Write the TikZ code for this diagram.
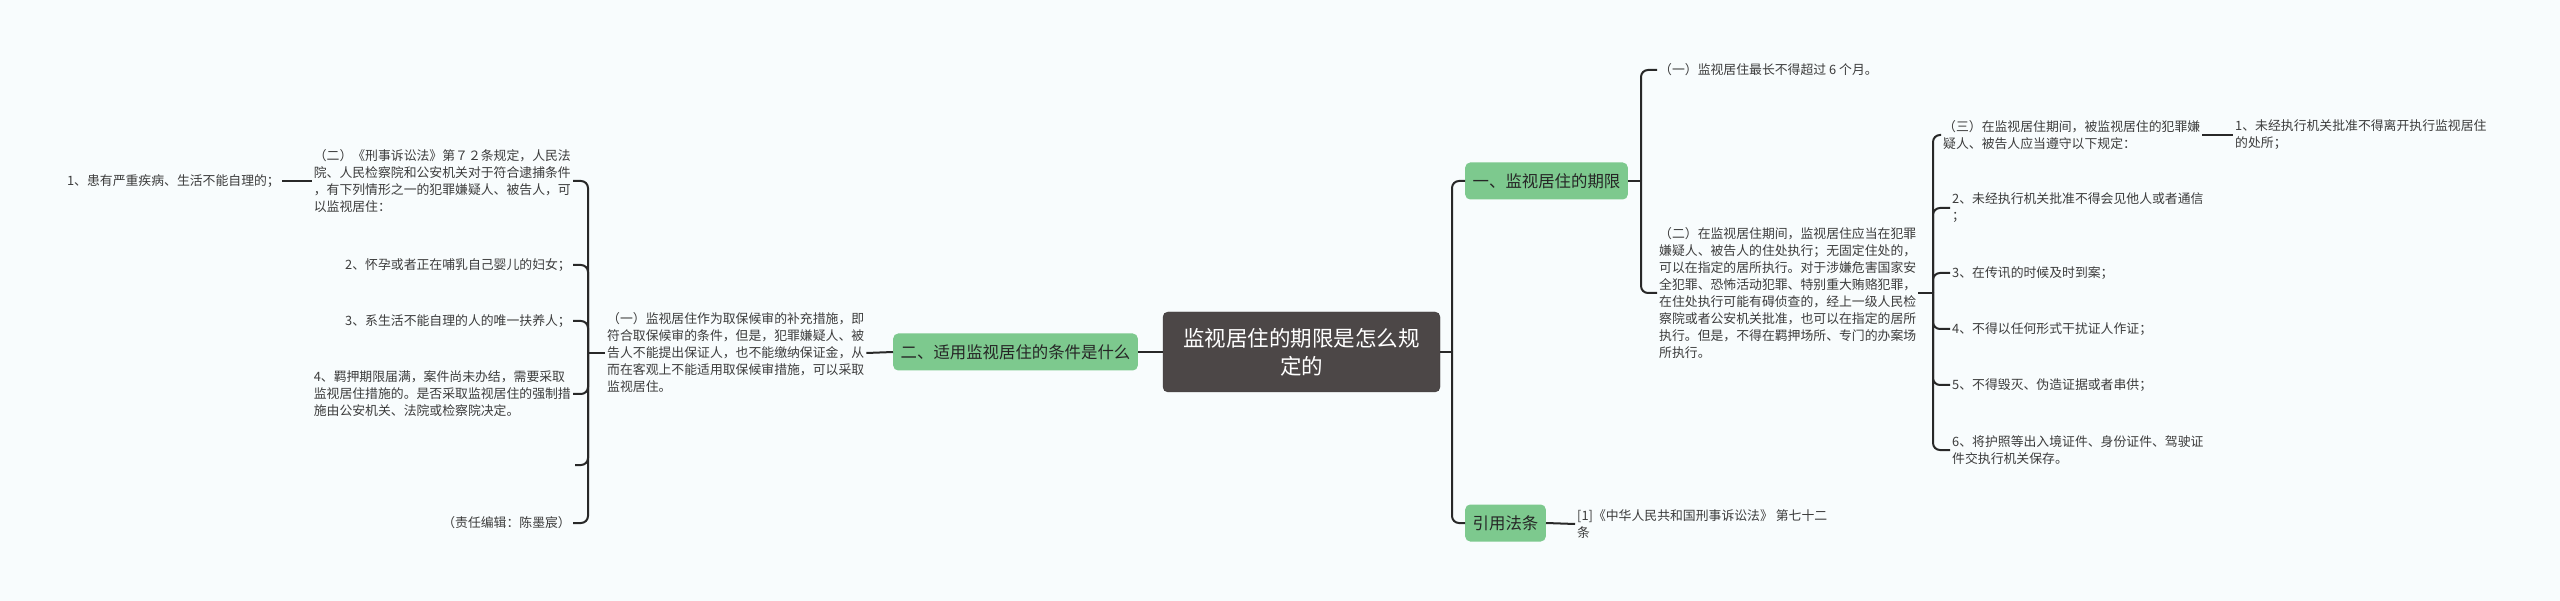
\documentclass[tikz,border=0pt]{standalone}
\usepackage{fontspec}
\setmainfont{Noto Sans CJK SC}
\definecolor{bg}{RGB}{248,252,253}
\definecolor{grn}{RGB}{125,201,142}
\definecolor{darkbox}{RGB}{76,71,71}
\definecolor{txt}{RGB}{60,60,60}
\definecolor{ln}{RGB}{40,40,40}
\begin{document}
\begin{tikzpicture}[x=1pt,y=-1pt,
  conn/.style={draw=ln, line width=2pt, rounded corners=7pt},
  leaf/.style={inner sep=2pt, align=left, text=txt, font=\fontsize{12.85}{17}\selectfont},
  topic/.style={fill=grn, rounded corners=5pt, inner xsep=7.5pt, inner ysep=0pt, minimum height=37pt, text=black!85, font=\fontsize{16.4}{20}\selectfont},
  root/.style={fill=darkbox, draw=darkbox!80!black, rounded corners=5pt, minimum width=277pt, minimum height=80pt, text=white, align=center, font=\fontsize{21.5}{28}\selectfont}]
\fill[bg] (0,0) rectangle (2560,601);
\useasboundingbox (0,0) rectangle (2560,601);

% root
\node[root] (c) at (1301.5,352) {监视居住的期限是怎么规\\定的};

% right side
\node[topic, anchor=west] (n1) at (1465,181) {一、监视居住的期限};
\node[topic, anchor=west] (n2) at (1465,523) {引用法条};
\node[leaf, anchor=west] (a1) at (1657,70) {（一）监视居住最长不得超过 6 个月。};
\node[leaf, anchor=west] (a2) at (1657,293) {（二）在监视居住期间，监视居住应当在犯罪\\嫌疑人、被告人的住处执行；无固定住处的，\\可以在指定的居所执行。对于涉嫌危害国家安\\全犯罪、恐怖活动犯罪、特别重大贿赂犯罪，\\在住处执行可能有碍侦查的，经上一级人民检\\察院或者公安机关批准，也可以在指定的居所\\执行。但是，不得在羁押场所、专门的办案场\\所执行。};
\node[leaf, anchor=west] (b3) at (1941,135) {（三）在监视居住期间，被监视居住的犯罪嫌\\疑人、被告人应当遵守以下规定：};
\node[leaf, anchor=west] (b1) at (2233,135) {1、未经执行机关批准不得离开执行监视居住\\的处所；};
\node[leaf, anchor=west] (b2) at (1950,208) {2、未经执行机关批准不得会见他人或者通信\\；};
\node[leaf, anchor=west] (b33) at (1950,273) {3、在传讯的时候及时到案；};
\node[leaf, anchor=west] (b4) at (1950,329) {4、不得以任何形式干扰证人作证；};
\node[leaf, anchor=west] (b5) at (1950,385) {5、不得毁灭、伪造证据或者串供；};
\node[leaf, anchor=west] (b6) at (1950,450) {6、将护照等出入境证件、身份证件、驾驶证\\件交执行机关保存。};
\node[leaf, anchor=west] (r1) at (1575,524) {[1]《中华人民共和国刑事诉讼法》 第七十二\\条};

% left side
\node[topic, anchor=east] (g2) at (1138,352) {二、适用监视居住的条件是什么};
\node[leaf, anchor=west] (l1) at (605,353) {（一）监视居住作为取保候审的补充措施，即\\符合取保候审的条件，但是，犯罪嫌疑人、被\\告人不能提出保证人，也不能缴纳保证金，从\\而在客观上不能适用取保候审措施，可以采取\\监视居住。};
\node[leaf, anchor=east] (lb2) at (573,181) {（二）《刑事诉讼法》第７２条规定，人民法\\院、人民检察院和公安机关对于符合逮捕条件\\，有下列情形之一的犯罪嫌疑人、被告人，可\\以监视居住：};
\node[leaf, anchor=east] (l2) at (573,265) {2、怀孕或者正在哺乳自己婴儿的妇女；};
\node[leaf, anchor=east] (l3) at (573,321) {3、系生活不能自理的人的唯一扶养人；};
\node[leaf, anchor=east] (l4) at (573,394) {4、羁押期限届满，案件尚未办结，需要采取\\监视居住措施的。是否采取监视居住的强制措\\施由公安机关、法院或检察院决定。};
\coordinate (l5) at (575,465);
\node[leaf, anchor=east] (ed) at (573,523) {（责任编辑：陈墨宸）};
\node[leaf, anchor=east] (p1) at (282,181) {1、患有严重疾病、生活不能自理的；};

% connectors right
\draw[conn] (c.east) -- (1452,352) coordinate (jR);
\draw[conn] (jR) |- (n1.west);
\draw[conn] (jR) |- (n2.west);
\draw[conn] (n1.east) -- (1641,181) coordinate (j1);
\draw[conn] (j1) |- (a1.west);
\draw[conn] (j1) |- (a2.west);
\draw[conn] (a2.east) -- (1933,293) coordinate (j2);
\foreach \k in {b3,b2,b33,b4,b5,b6} \draw[conn] (j2) |- (\k.west);
\draw[conn] (b3.east) -- (b1.west);
\draw[conn] (n2.east) -- (r1.west);

% connectors left
\draw[conn] (c.west) -- (g2.east);
\draw[conn] (g2.west) -- (l1.east);
\draw[conn] (l1.west) -- (588,353) coordinate (jL);
\foreach \k in {lb2,l2,l3,l4,ed} \draw[conn] (jL) |- (\k.east);
\draw[conn] (jL) |- (l5);
\draw[conn] (lb2.west) -- (p1.east);
\end{tikzpicture}
\end{document}
